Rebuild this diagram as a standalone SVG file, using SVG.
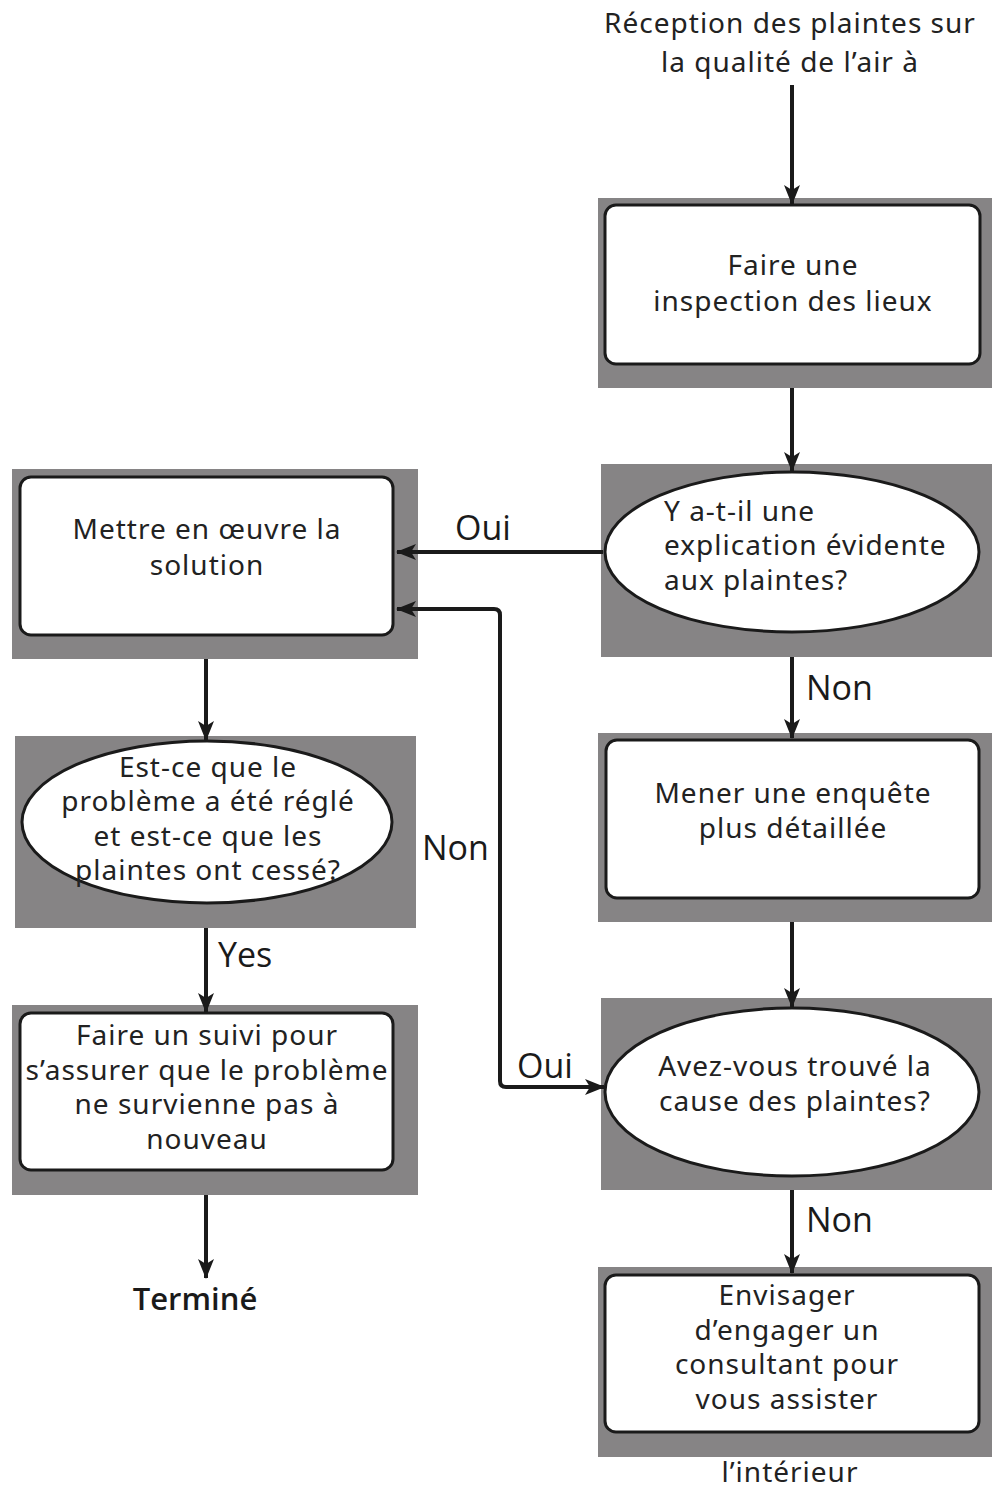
<svg xmlns="http://www.w3.org/2000/svg" width="992" height="1490" viewBox="0 0 992 1490">
  <style>
    .panel { fill: #868485; }
    .box { fill: #ffffff; stroke: #1a1a1a; stroke-width: 3; }
    .txt { font-family: "Noto Sans", "Open Sans", sans-serif; font-size: 28px; letter-spacing: 1px; fill: #222222; text-anchor: middle; }
    .txtl { font-family: "Noto Sans", "Open Sans", sans-serif; font-size: 28px; letter-spacing: 1px; fill: #222222; }
    .lbl { font-family: "Open Sans", "Noto Sans", sans-serif; font-size: 34px; fill: #1a1a1a; }
    .conn { fill: none; stroke: #1a1a1a; stroke-width: 4; }
  </style>
  <defs>
    <marker id="arrow" viewBox="0 0 20 16" refX="19" refY="8" markerWidth="20" markerHeight="16" markerUnits="userSpaceOnUse" orient="auto-start-reverse">
      <path d="M0,0 L20,8 L0,16 L5,8 Z" fill="#1a1a1a"/>
    </marker>
  </defs>

  <rect width="992" height="1490" fill="#ffffff"/>

  <!-- start text -->
  <g id="start">
    <text class="txt" x="790" y="33">Réception des plaintes sur</text>
    <text class="txt" x="790" y="72">la qualité de l’air à</text>
  </g>

  <!-- right column -->
  <g id="inspection">
    <rect class="panel" x="598" y="198" width="394" height="190"/>
    <rect class="box" x="605" y="205" width="375" height="159" rx="11"/>
    <text class="txt" x="793" y="275">Faire une</text>
    <text class="txt" x="793" y="311">inspection des lieux</text>
  </g>

  <g id="explication">
    <rect class="panel" x="601" y="464" width="391" height="193"/>
    <ellipse class="box" cx="792" cy="552" rx="187" ry="80"/>
    <text class="txtl" x="664" y="521">Y a-t-il une</text>
    <text class="txtl" x="664" y="555">explication évidente</text>
    <text class="txtl" x="664" y="590">aux plaintes?</text>
  </g>

  <g id="enquete">
    <rect class="panel" x="598" y="733" width="394" height="189"/>
    <rect class="box" x="606" y="740" width="373" height="158" rx="11"/>
    <text class="txt" x="793" y="803">Mener une enquête</text>
    <text class="txt" x="793" y="838">plus détaillée</text>
  </g>

  <g id="cause">
    <rect class="panel" x="601" y="998" width="391" height="192"/>
    <ellipse class="box" cx="792" cy="1092" rx="187" ry="84"/>
    <text class="txt" x="795" y="1076">Avez-vous trouvé la</text>
    <text class="txt" x="795" y="1111">cause des plaintes?</text>
  </g>

  <g id="consultant">
    <rect class="panel" x="598" y="1267" width="394" height="190"/>
    <rect class="box" x="605" y="1275" width="374" height="157" rx="11"/>
    <text class="txt" x="787" y="1305">Envisager</text>
    <text class="txt" x="787" y="1340">d’engager un</text>
    <text class="txt" x="787" y="1374">consultant pour</text>
    <text class="txt" x="787" y="1409">vous assister</text>
  </g>

  <g id="interieur">
    <text class="txt" x="790" y="1482">l’intérieur</text>
  </g>

  <!-- left column -->
  <g id="solution">
    <rect class="panel" x="12" y="469" width="406" height="190"/>
    <rect class="box" x="20" y="477" width="373" height="158" rx="11"/>
    <text class="txt" x="207" y="539">Mettre en œuvre la</text>
    <text class="txt" x="207" y="575">solution</text>
  </g>

  <g id="regle">
    <rect class="panel" x="15" y="736" width="401" height="192"/>
    <ellipse class="box" cx="207" cy="822" rx="185" ry="81"/>
    <text class="txt" x="208" y="777">Est-ce que le</text>
    <text class="txt" x="208" y="811">problème a été réglé</text>
    <text class="txt" x="208" y="846">et est-ce que les</text>
    <text class="txt" x="208" y="880">plaintes ont cessé?</text>
  </g>

  <g id="suivi">
    <rect class="panel" x="12" y="1005" width="406" height="190"/>
    <rect class="box" x="20" y="1013" width="373" height="157" rx="11"/>
    <text class="txt" x="207" y="1045">Faire un suivi pour</text>
    <text class="txt" x="207" y="1080">s’assurer que le problème</text>
    <text class="txt" x="207" y="1114">ne survienne pas à</text>
    <text class="txt" x="207" y="1149">nouveau</text>
  </g>

  <g id="termine">
    <text x="195" y="1310" font-family="'Open Sans', 'Noto Sans', sans-serif" font-size="31" font-weight="600" fill="#1a1a1a" text-anchor="middle">Terminé</text>
  </g>

  <!-- connectors -->
  <g id="connectors">
    <path class="conn" d="M792,85 V204" marker-end="url(#arrow)"/>
    <path class="conn" d="M792,388 V471" marker-end="url(#arrow)"/>
    <path class="conn" d="M603,552 H397" marker-end="url(#arrow)"/>
    <path class="conn" d="M792,657 V738" marker-end="url(#arrow)"/>
    <path class="conn" d="M792,922 V1007" marker-end="url(#arrow)"/>
    <path class="conn" d="M792,1190 V1273" marker-end="url(#arrow)"/>
    <path class="conn" d="M206,659 V740" marker-end="url(#arrow)"/>
    <path class="conn" d="M206,928 V1012" marker-end="url(#arrow)"/>
    <path class="conn" d="M206,1195 V1278" marker-end="url(#arrow)"/>
    <path class="conn" d="M397,609 H494 Q500,609 500,615 V1081 Q500,1087 506,1087 H604" marker-start="url(#arrow)" marker-end="url(#arrow)"/>

    <text class="lbl" x="455" y="540">Oui</text>
    <text class="lbl" x="806" y="700">Non</text>
    <text class="lbl" x="422" y="860">Non</text>
    <text class="lbl" x="517" y="1078">Oui</text>
    <text class="lbl" x="806" y="1232" font-size="31">Non</text>
    <text class="lbl" x="218" y="967" font-size="30">Yes</text>
  </g>
</svg>
